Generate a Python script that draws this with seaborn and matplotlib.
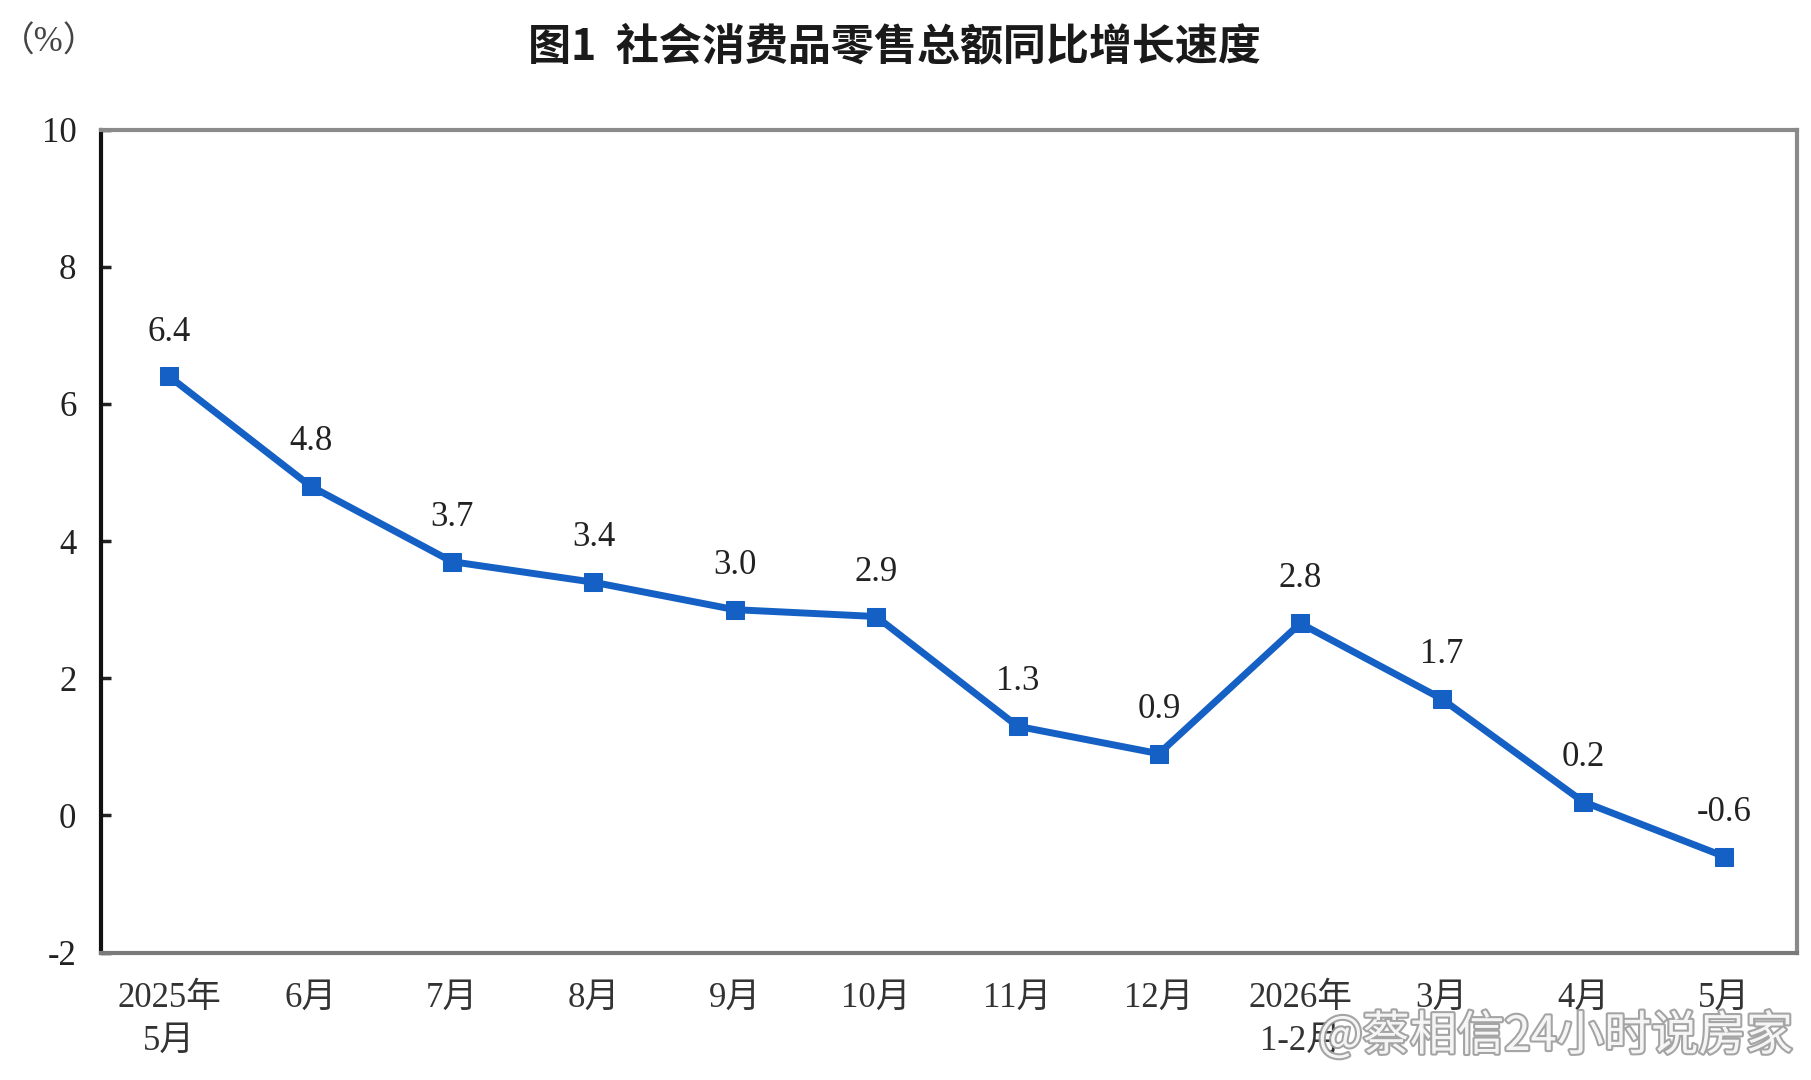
import matplotlib
matplotlib.use("Agg")
import matplotlib.pyplot as plt
import matplotlib.patheffects as pe
import seaborn as sns
import pandas as pd

# %% data
months = ["2025年\n5月", "6月", "7月", "8月", "9月", "10月", "11月", "12月",
          "2026年\n1-2月", "3月", "4月", "5月"]
growth = [6.4, 4.8, 3.7, 3.4, 3.0, 2.9, 1.3, 0.9, 2.8, 1.7, 0.2, -0.6]
y_ticks = [-2, 0, 2, 4, 6, 8, 10]

title = "图1  社会消费品零售总额同比增长速度"
unit = "（%）"
watermark = "@蔡相信24小时说房家"

df = pd.DataFrame({"pos": range(len(months)), "month": months, "growth": growth})

# %% style
sns.set_style("white")
plt.rcParams["font.family"] = ["Liberation Serif", "Noto Sans CJK SC", "DejaVu Sans"]

line_blue = "#1560c4"

fig = plt.figure(figsize=(18.11, 10.8), dpi=100)
ax = fig.add_axes([0.056, 0.118, 0.936, 0.762])

sns.lineplot(data=df, x="pos", y="growth", ax=ax, color=line_blue,
             linewidth=5, marker="s", markersize=13,
             markeredgecolor=line_blue, markerfacecolor=line_blue)

# value labels above each point
for _, row in df.iterrows():
    ax.annotate(f"{row.growth:.1f}", (row.pos, row.growth),
                xytext=(0, 32), textcoords="offset points",
                ha="center", va="center", fontsize=25, color="#222222")

ax.set_xlim(-0.48, 11.51)
ax.set_ylim(-2, 10)
ax.set_yticks(y_ticks)
ax.set_yticklabels([str(t) for t in y_ticks])
ax.set_xticks(df["pos"])
ax.set_xticklabels(df["month"], linespacing=1.4)
ax.set_xlabel("")
ax.set_ylabel("")

ax.tick_params(axis="y", direction="in", length=7, width=2.5, pad=18,
               labelsize=25, colors="#222222", left=True)
ax.tick_params(axis="x", length=0, pad=21, labelsize=25, colors="#333333")

for side in ["left", "bottom"]:
    ax.spines[side].set_color("#111111")
    ax.spines[side].set_linewidth(3)
for side in ["top", "right"]:
    ax.spines[side].set_color("#8a8a8a")
    ax.spines[side].set_linewidth(3)
ax.spines["bottom"].set_color("#7a7a7a")

# title and unit
fig.text(0.494, 0.957, title, ha="center", va="center", fontsize=31,
         fontweight="bold", family=["Noto Sans CJK SC", "DejaVu Sans"],
         color="#1a1a1a")
fig.text(0.027, 0.960, unit, ha="center", va="center", fontsize=25,
         color="#444444")

# watermark
fig.text(0.859, 0.040, watermark, ha="center", va="center", fontsize=34,
         family=["Noto Sans CJK SC", "DejaVu Sans"], color="white", alpha=0.9,
         path_effects=[pe.withStroke(linewidth=3, foreground="#9a9a9a")])

fig.savefig("out.png", dpi=100)
